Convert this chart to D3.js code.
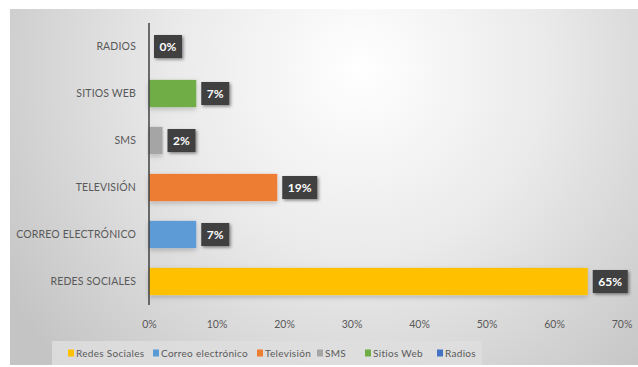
<!DOCTYPE html>
<html>
<head>
<meta charset="utf-8">
<script src="https://cdn.jsdelivr.net/npm/d3@7"></script>
<style>
  html, body { margin: 0; padding: 0; background: #ffffff; }
  svg { display: block; }
</style>
</head>
<body>
<svg id="chart" width="638" height="367"></svg>
<script>
// Medios de difusión: porcentaje de respuestas
const categories = ["Redes Sociales", "Correo electrónico", "Televisión", "SMS", "Sitios Web", "Radios"];
const values = [65, 7, 19, 2, 7, 0];
const colors = ["#FFC000", "#5B9BD5", "#ED7D31", "#A5A5A5", "#70AD47", "#4472C4"];
const tickValues = [0, 10, 20, 30, 40, 50, 60, 70];

const svg = d3.select("#chart");
const W = 638, H = 367;
const font = "Lato, 'Open Sans', 'Liberation Sans', sans-serif";

const defs = svg.append("defs");
const grad = defs.append("radialGradient")
  .attr("id", "bg").attr("gradientUnits", "userSpaceOnUse")
  .attr("cx", 360).attr("cy", 70).attr("r", 420);
grad.append("stop").attr("offset", "0%").attr("stop-color", "#ffffff");
grad.append("stop").attr("offset", "45%").attr("stop-color", "#eaeaea");
grad.append("stop").attr("offset", "100%").attr("stop-color", "#c4c4c4");

const shadow = defs.append("filter").attr("id", "shadow")
  .attr("x", "-30%").attr("y", "-30%").attr("width", "160%").attr("height", "180%");
shadow.append("feDropShadow").attr("dx", 1.5).attr("dy", 1.5).attr("stdDeviation", 1.5)
  .attr("flood-color", "#000").attr("flood-opacity", 0.45);

const barShadow = defs.append("filter").attr("id", "barShadow")
  .attr("x", "-10%").attr("y", "-40%").attr("width", "120%").attr("height", "200%");
barShadow.append("feDropShadow").attr("dx", 0).attr("dy", 2).attr("stdDeviation", 2.5)
  .attr("flood-color", "#000").attr("flood-opacity", 0.22);

// Chart area background
svg.append("rect").attr("x", 10).attr("y", 9).attr("width", W - 10).attr("height", 356)
  .attr("fill", "url(#bg)");

const x = d3.scaleLinear().domain([0, 70]).range([149, 621.5]);
const y = d3.scaleBand().domain(categories).range([305, 23]).paddingInner(0.42).paddingOuter(0.21);

// Bars
svg.append("g").selectAll("rect").data(categories).join("rect")
  .attr("x", x(0))
  .attr("y", d => y(d))
  .attr("width", (d, i) => x(values[i]) - x(0))
  .attr("height", y.bandwidth())
  .attr("fill", (d, i) => colors[i])
  .attr("filter", "url(#barShadow)");

// Vertical axis line
svg.append("line").attr("x1", x(0)).attr("x2", x(0)).attr("y1", 23).attr("y2", 305)
  .attr("stroke", "#404040").attr("stroke-width", 1.5);

// Category labels
const yAxis = svg.append("g").attr("transform", `translate(${x(0)},0)`)
  .call(d3.axisLeft(y).tickSize(0).tickPadding(13).tickFormat(d => d.toUpperCase()));
yAxis.select(".domain").remove();
yAxis.selectAll("text").attr("font-family", font).attr("font-size", 10.5)
  .attr("fill", "#595959").attr("letter-spacing", 0.15);

// Value axis labels
const xAxis = svg.append("g").attr("transform", "translate(0,318)")
  .call(d3.axisBottom(x).tickValues(tickValues).tickSize(0).tickFormat(d => d + "%"));
xAxis.select(".domain").remove();
xAxis.selectAll("text").attr("font-family", font).attr("font-size", 10.5).attr("fill", "#595959");

// Data labels
const labels = svg.append("g").selectAll("g").data(categories).join("g")
  .attr("transform", (d, i) => `translate(${x(values[i]) + 5},${y(d) + y.bandwidth() / 2})`);
labels.each(function (d, i) {
  const g = d3.select(this);
  const txt = values[i] + "%";
  const w = txt.length === 2 ? 28 : 35;
  g.append("rect").attr("x", 0).attr("y", -11.5).attr("width", w).attr("height", 23)
    .attr("fill", "#404040").attr("filter", "url(#shadow)");
  g.append("text").attr("x", w / 2).attr("y", 0).attr("dy", "0.36em")
    .attr("text-anchor", "middle").attr("font-family", font).attr("font-weight", "bold")
    .attr("font-size", 12).attr("fill", "#ffffff").text(txt);
});

// Legend
svg.append("rect").attr("x", 52).attr("y", 341).attr("width", 430).attr("height", 24)
  .attr("fill", "#dedede").attr("opacity", 0.85);
const legendX = [68, 153, 257, 317, 365, 437];
const legend = svg.append("g").selectAll("g").data(categories).join("g")
  .attr("transform", (d, i) => `translate(${legendX[i]},353)`);
legend.append("rect").attr("x", 0).attr("y", -3.5).attr("width", 6).attr("height", 7)
  .attr("fill", (d, i) => colors[i]);
legend.append("text").attr("x", 8).attr("dy", "0.35em")
  .attr("font-family", font).attr("font-size", 10).attr("fill", "#595959")
  .attr("letter-spacing", 0.3).text(d => d);
</script>
</body>
</html>
